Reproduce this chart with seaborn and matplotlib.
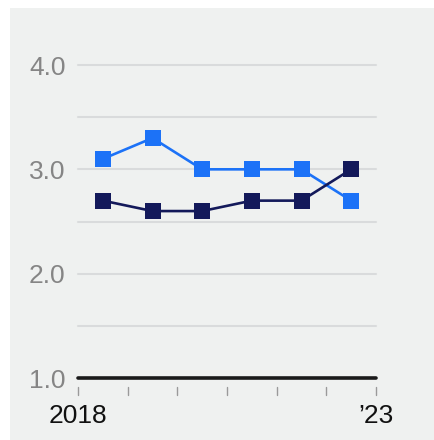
import matplotlib
matplotlib.use("Agg")
import matplotlib.pyplot as plt
import matplotlib.transforms as mtransforms
import numpy as np
import pandas as pd
import seaborn as sns

years = ["2018", "2019", "2020", "2021", "2022", "2023"]
light_values = [3.1, 3.3, 3.0, 3.0, 3.0, 2.7]
dark_values = [2.7, 2.6, 2.6, 2.7, 2.7, 3.0]
series_names = ["light", "dark"]
y_ticks = [1.0, 2.0, 3.0, 4.0]
x_tick_labels = ["2018", "", "", "", "", "", "\u201923"]

PANEL = "#eff1f0"
LIGHT = "#1c72f7"
DARK = "#13195a"

sns.set_theme(style="white")
plt.rcParams["font.family"] = ["Liberation Sans", "DejaVu Sans"]

df = pd.DataFrame({
    "pos": np.tile(np.arange(len(years)) + 0.5, 2),
    "value": light_values + dark_values,
    "series": np.repeat(series_names, len(years)),
})

fig = plt.figure(figsize=(4.34, 4.40), dpi=100)
fig.patch.set_facecolor("white")
fig.patches.append(plt.Rectangle((10 / 434, 0), 1, 1 - 8 / 440,
                                 transform=fig.transFigure, facecolor=PANEL,
                                 edgecolor="none", zorder=-5))
ax = fig.add_axes([78 / 434, 1 - 378 / 440, 298 / 434, 313 / 440])
ax.set_zorder(1)
ax.set_facecolor("none")

# gridlines every 0.5
for y in np.arange(1.5, 4.01, 0.5):
    ax.axhline(y, color="#d9dbdc", lw=1.5, zorder=1, clip_on=False)
ax.axhline(1.0, color="#1a1a1a", lw=2.6, zorder=2, clip_on=False)

sns.lineplot(data=df, x="pos", y="value", hue="series",
             palette={"light": LIGHT, "dark": DARK}, marker="s",
             markersize=12, markeredgewidth=0, linewidth=1.9,
             legend=False, ax=ax, zorder=3)
for line in ax.lines:
    line.set_clip_on(False)

ax.set_xlim(0, len(years))
ax.set_ylim(1.0, 4.0)
ax.set_yticks(y_ticks)
ax.set_yticklabels([f"{v:.1f}" for v in y_ticks], color="#858585", fontsize=19)
ax.set_xticks(np.arange(len(years) + 1))
ax.set_xticklabels(x_tick_labels, color="#111111", fontsize=19)
ax.tick_params(axis="y", length=0, pad=9)
ax.tick_params(axis="x", length=0, pad=19)
ax.set_xlabel("")
ax.set_ylabel("")
for s in ax.spines.values():
    s.set_visible(False)

# small tick marks hanging below the axis line
trans = mtransforms.blended_transform_factory(ax.transData, ax.transAxes)
for x in range(len(years) + 1):
    ax.plot([x, x], [-9 / 313, -17 / 313], color="#9a9a9a", lw=1.0,
            transform=trans, clip_on=False)

fig.savefig("out.png", dpi=100, facecolor=fig.get_facecolor())
